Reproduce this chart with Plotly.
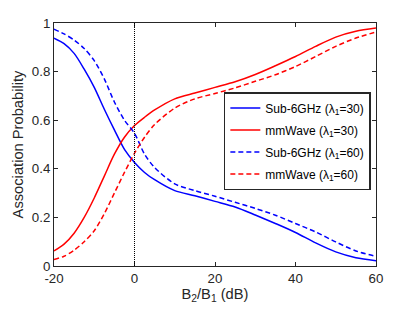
import plotly.graph_objects as go

x_db = [-20, -17.5, -15, -12.5, -10, -7.5, -5, -2.5, 0, 2.5, 5, 10, 15, 20, 25, 30, 35, 40, 45, 50, 55, 60]

sub6_l30 = [0.938, 0.915, 0.875, 0.810, 0.735, 0.645, 0.560, 0.480, 0.426, 0.385, 0.355, 0.310,
            0.289, 0.266, 0.243, 0.210, 0.175, 0.138, 0.095, 0.058, 0.034, 0.022]
mmw_l30 = [0.062, 0.090, 0.135, 0.200, 0.280, 0.370, 0.460, 0.530, 0.578, 0.612, 0.642, 0.688,
           0.712, 0.735, 0.758, 0.788, 0.824, 0.862, 0.904, 0.942, 0.966, 0.979]
sub6_l60 = [0.975, 0.955, 0.930, 0.895, 0.845, 0.770, 0.675, 0.600, 0.546, 0.460, 0.405, 0.338,
            0.310, 0.287, 0.262, 0.237, 0.209, 0.175, 0.140, 0.099, 0.062, 0.040]
mmw_l60 = [0.027, 0.040, 0.065, 0.100, 0.145, 0.215, 0.300, 0.385, 0.464, 0.530, 0.582, 0.650,
           0.688, 0.710, 0.733, 0.760, 0.787, 0.821, 0.862, 0.904, 0.938, 0.963]

x_ticks = [-20, 0, 20, 40, 60]
x_tick_labels = ["-20", "0", "20", "40", "60"]
y_ticks = [0, 0.2, 0.4, 0.6, 0.8, 1]
y_tick_labels = ["0", "0.2", "0.4", "0.6", "0.8", "1"]

series = [
    ("Sub-6GHz (λ<sub>1</sub>=30)", sub6_l30, "#0000ff", "solid"),
    ("mmWave (λ<sub>1</sub>=30)", mmw_l30, "#ff0000", "solid"),
    ("Sub-6GHz (λ<sub>1</sub>=60)", sub6_l60, "#0000ff", "5px,3px"),
    ("mmWave (λ<sub>1</sub>=60)", mmw_l60, "#ff0000", "5px,3px"),
]

fig = go.Figure()
for i, (name, ys, col, dash) in enumerate(series):
    fig.add_trace(go.Scatter(x=x_db, y=ys, mode="lines", name=name, legendgroup=f"g{i}",
                             line=dict(color=col, width=1.5, dash=dash, shape="spline", smoothing=0.8)))

fig.add_shape(type="line", x0=0, x1=0, y0=0, y1=1, xref="x", yref="y",
              line=dict(color="black", width=1, dash="1px,1px"))

fam = "Liberation Sans, Arial, sans-serif"
tick_font = dict(family=fam, size=13.3, color="#262626")
title_font = dict(family=fam, size=14.7, color="#262626")
axis_common = dict(showgrid=False, zeroline=False, showline=True, linecolor="#262626",
                   linewidth=1, mirror="ticks", ticks="inside", ticklen=4,
                   tickcolor="#262626", tickfont=tick_font)

fig.update_layout(
    width=415, height=312,
    margin=dict(l=54, r=39, t=23, b=46),
    paper_bgcolor="white", plot_bgcolor="white",
    font=tick_font,
    showlegend=True,
    legend=dict(x=0.984, y=0.716, xanchor="right", yanchor="top",
                bgcolor="white", bordercolor="#262626", borderwidth=1.5,
                font=dict(family=fam, size=12, color="black"),
                itemwidth=30, tracegroupgap=3),
    xaxis=dict(range=[-20, 60], tickvals=x_ticks, ticktext=x_tick_labels,
               title=dict(text="B<sub>2</sub>/B<sub>1</sub> (dB)", standoff=2, font=title_font), **axis_common),
    yaxis=dict(range=[0, 1], tickvals=y_ticks, ticktext=y_tick_labels,
               title=dict(text="Association Probability", standoff=4, font=title_font), **axis_common),
)

fig.write_html("out.html", config={"displayModeBar": False},
               post_script="document.body.style.margin='0';")
